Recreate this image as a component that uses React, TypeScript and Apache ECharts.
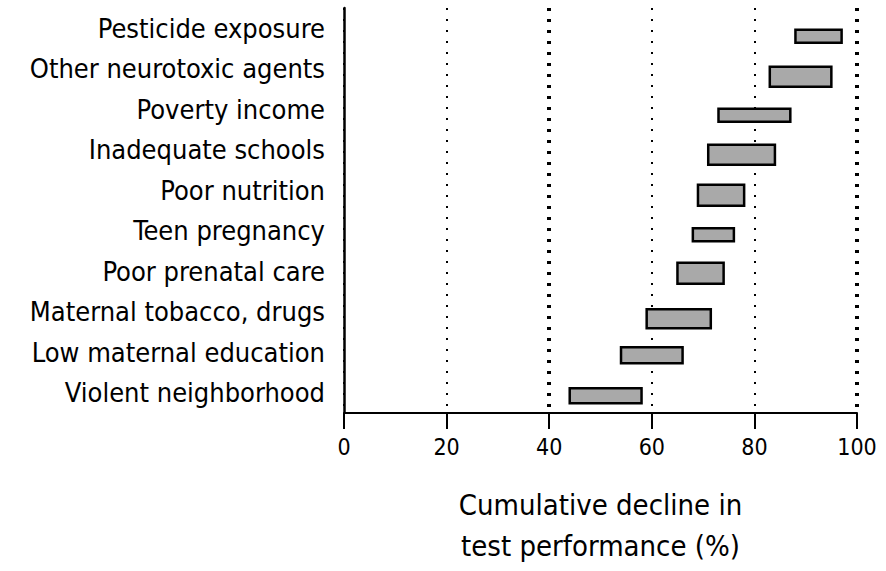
import React, { useEffect, useRef } from "react";
import * as echarts from "echarts";

const categories = [
  "Pesticide exposure",
  "Other neurotoxic agents",
  "Poverty income",
  "Inadequate schools",
  "Poor nutrition",
  "Teen pregnancy",
  "Poor prenatal care",
  "Maternal tobacco, drugs",
  "Low maternal education",
  "Violent neighborhood",
];
const rangeStart = [88, 83, 73, 71, 69, 68, 65, 59, 54, 44];
const rangeEnd = [97, 95, 87, 84, 78, 76, 74, 71.5, 66, 58];
const xTicks = [0, 20, 40, 60, 80, 100];
const heavyGridValues = [40, 100];

// visual thickness / vertical offset of each bar (style only)
const barThickness = [13, 20, 13, 20, 21, 13, 21, 19, 16, 15];
const barOffset = [8, 8, 6, 5, 5, 4, 2, 7, 3, 3];

const FONT = "'DejaVu Sans Condensed', 'Liberation Sans Narrow', 'Arial Narrow', sans-serif";

export default function App() {
  const ref = useRef<HTMLDivElement>(null);
  useEffect(() => {
    if (!ref.current) return;
    const chart = echarts.init(ref.current, undefined, { renderer: "svg" });
    const data = categories.map((c, i) => [i, rangeStart[i], rangeEnd[i]]);
    chart.setOption({
      animation: false,
      backgroundColor: "#ffffff",
      grid: { left: 344, right: 29, top: 8, bottom: 152, containLabel: false },
      xAxis: {
        type: "value",
        min: 0,
        max: 100,
        interval: 20,
        axisLine: { show: true, lineStyle: { color: "#000", width: 2 } },
        axisTick: { show: true, length: 16, lineStyle: { color: "#000", width: 2 } },
        axisLabel: {
          margin: 22,
          color: "#000",
          fontSize: 23,
          fontFamily: FONT,
          formatter: (v: number) => (xTicks.includes(v) ? String(v) : ""),
        },
        splitLine: {
          show: true,
          lineStyle: { color: "#000", width: 2, type: [2, 9] },
        },
        name: "Cumulative decline in\ntest performance (%)",
        nameLocation: "middle",
        nameGap: 71,
        nameTextStyle: {
          color: "#000",
          fontSize: 29,
          lineHeight: 41,
          fontFamily: FONT,
        },
      },
      yAxis: {
        type: "category",
        data: categories,
        inverse: true,
        axisLine: { show: true, lineStyle: { color: "#000", width: 2.5 } },
        axisTick: { show: false },
        axisLabel: {
          color: "#000",
          fontSize: 27,
          fontFamily: FONT,
          margin: 19,
          padding: [0, 0, 4, 0],
        },
        splitLine: { show: false },
      },
      series: [
        {
          type: "custom",
          data,
          encode: { x: [1, 2], y: 0 },
          renderItem: (params: any, api: any) => {
            const cat = api.value(0);
            const s = api.coord([api.value(1), cat]);
            const e = api.coord([api.value(2), cat]);
            const h = barThickness[params.dataIndex];
            const cy = s[1] + barOffset[params.dataIndex];
            return {
              type: "rect",
              shape: { x: s[0], y: cy - h / 2, width: e[0] - s[0], height: h },
              style: { fill: "#a9a9a9", stroke: "#000", lineWidth: 2.5 },
            };
          },
          markLine: {
            silent: true,
            symbol: "none",
            label: { show: false },
            lineStyle: { color: "#000", width: 4, type: [3, 8] },
            data: heavyGridValues.map((v) => ({ xAxis: v })),
          },
        },
      ],
    });
    return () => chart.dispose();
  }, []);
  return (
    <div
      ref={ref}
      style={{ position: "fixed", left: 0, top: 0, width: 886, height: 571, background: "#fff" }}
    />
  );
}
